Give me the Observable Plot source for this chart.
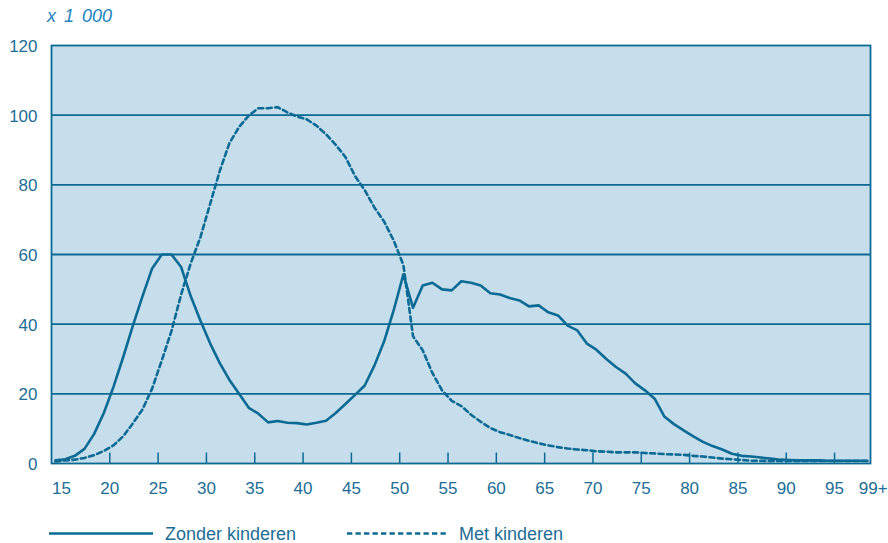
<!DOCTYPE html>
<html>
<head>
<meta charset="utf-8">
<script src="https://cdn.jsdelivr.net/npm/d3@7"></script>
<script src="https://cdn.jsdelivr.net/npm/@observablehq/plot@0.6"></script>
<style>
  html, body { margin: 0; padding: 0; background: #ffffff; }
  #wrap { position: relative; width: 888px; height: 543px; overflow: hidden; font-family: "Liberation Sans", Arial, sans-serif; }
  #title { position: absolute; left: 47px; top: 5px; font-size: 18px; font-style: italic; color: #2184bd; word-spacing: 3px; line-height: 22px; }
  #chart { position: absolute; left: 0; top: 30px; }
  #legend { position: absolute; left: 0; top: 510px; }
</style>
</head>
<body>
<div id="wrap">
  <div id="title">x 1 000</div>
  <div id="chart"></div>
  <div id="legend"></div>
</div>
<script>
// Categories: age in years (15 ... 99+)
const ages = d3.range(15, 100);

// Zonder kinderen (x 1 000)
const zonder = [
  0.9, 1.2, 2.2, 4.2, 8.5, 14.5, 22, 30.5, 39.5, 48,      // 15-24
  56, 60, 60, 56.4, 48, 41, 34.5, 28.8, 24, 20,          // 25-34
  16, 14.3, 11.8, 12.2, 11.7, 11.6, 11.2, 11.7, 12.3, 14.5, // 35-44
  17.1, 19.7, 22.4, 28.1, 35, 44, 54.3, 44.7, 51.1, 51.9, // 45-54
  50, 49.7, 52.3, 51.9, 51.1, 48.9, 48.5, 47.5, 46.8, 45.1, // 55-64
  45.4, 43.4, 42.5, 39.6, 38.2, 34.4, 32.6, 30, 27.7, 25.8, // 65-74
  23, 21, 18.6, 13.5, 11.3, 9.5, 7.8, 6.2, 5, 4,         // 75-84
  2.8, 2.2, 2.0, 1.7, 1.4, 1.1, 1.0, 0.9, 0.9, 0.9,      // 85-94
  0.8, 0.8, 0.8, 0.8, 0.8                                // 95-99+
];

// Met kinderen (x 1 000)
const met = [
  0.6, 0.9, 1.1, 1.6, 2.4, 3.6, 5.2, 7.8, 11.5, 15.5,    // 15-24
  21.5, 29.6, 38, 48.5, 57.5, 65, 74.5, 84, 92, 96.6,    // 25-34
  99.9, 102, 102, 102.3, 100.8, 99.6, 98.8, 97, 94.5, 91.5, // 35-44
  88, 82.5, 78.5, 73.5, 69.5, 64, 57, 36.5, 32.5, 26,    // 45-54
  21, 18, 16.5, 14, 12, 10.2, 9, 8.2, 7.3, 6.5,          // 55-64
  5.8, 5.2, 4.7, 4.3, 4.0, 3.8, 3.5, 3.4, 3.2, 3.2,      // 65-74
  3.2, 3.0, 2.9, 2.7, 2.6, 2.5, 2.2, 2.0, 1.7, 1.4,      // 75-84
  1.2, 1.0, 0.8, 0.8, 0.7, 0.7, 0.7, 0.7, 0.7, 0.7,      // 85-94
  0.7, 0.7, 0.7, 0.7, 0.7                                // 95-99+
];

const xTickValues = [15, 20, 25, 30, 35, 40, 45, 50, 55, 60, 65, 70, 75, 80, 85, 90, 95, 99];
const xTickLabels = ["15", "20", "25", "30", "35", "40", "45", "50", "55", "60", "65", "70", "75", "80", "85", "90", "95", "99+"];
const xTickMarks = [20, 25, 30, 35, 40, 45, 50, 55, 60, 65, 70, 75, 80, 85, 90, 95];
const yTicks = [0, 20, 40, 60, 80, 100, 120];
const yGrid = [20, 40, 60, 80, 100];
const seriesNames = ["Zonder kinderen", "Met kinderen"];

const dark = "#0b6a93";
const textColor = "#1d6d95";
const bg = "#c6ddec";
const tickOffset = 0.62; // ticks sit slightly right of the data points in the original

const data = ages.flatMap((a, i) => [
  {age: a, value: zonder[i], series: seriesNames[0]},
  {age: a, value: met[i], series: seriesNames[1]}
]);

const plot = Plot.plot({
  width: 888,
  height: 480,
  marginTop: 15,
  marginBottom: 47,
  marginLeft: 51,
  marginRight: 18,
  style: {fontFamily: '"Liberation Sans", Arial, sans-serif', fontSize: "17px", color: textColor, background: "transparent"},
  x: {domain: [14.586, 99.34], axis: null},
  y: {domain: [0, 120], axis: null},
  marks: [
    Plot.frame({fill: bg, stroke: null}),
    Plot.ruleY(yGrid, {stroke: dark, strokeWidth: 1.8}),
    Plot.ruleX(xTickMarks, {x: d => d + tickOffset, y1: 0, y2: 3, stroke: dark, strokeWidth: 1.5}),
    Plot.line(data.filter(d => d.series === seriesNames[1]), {x: "age", y: "value", stroke: dark, strokeWidth: 2.6, strokeDasharray: "5,3.5", strokeLinejoin: "round"}),
    Plot.line(data.filter(d => d.series === seriesNames[0]), {x: "age", y: "value", stroke: dark, strokeWidth: 2.6, strokeLinejoin: "round"}),
    Plot.frame({stroke: dark, strokeWidth: 1.8}),
    Plot.text(yTicks, {x: 14.586, y: d => d, text: d => String(d), textAnchor: "end", dx: -14, dy: 1, fill: textColor, fontSize: 17}),
    Plot.text(xTickValues, {x: d => d + tickOffset, y: 0, text: (d, i) => xTickLabels[i], dy: 25, fill: textColor, fontSize: 17})
  ]
});
document.getElementById("chart").appendChild(plot);

// Legend below the chart
const leg = d3.select("#legend").append("svg").attr("width", 888).attr("height", 33)
  .style("font-family", '"Liberation Sans", Arial, sans-serif');
const legendItems = [
  {name: seriesNames[0], x1: 49, x2: 153, tx: 165, dash: null},
  {name: seriesNames[1], x1: 347, x2: 448, tx: 459, dash: "5.3,3.2"}
];
legendItems.forEach(it => {
  leg.append("line").attr("x1", it.x1).attr("x2", it.x2).attr("y1", 23.5).attr("y2", 23.5)
    .attr("stroke", dark).attr("stroke-width", 2.6).attr("stroke-dasharray", it.dash);
  leg.append("text").attr("x", it.tx).attr("y", 29.5).attr("fill", textColor)
    .attr("font-size", 18).text(it.name);
});
</script>
</body>
</html>
